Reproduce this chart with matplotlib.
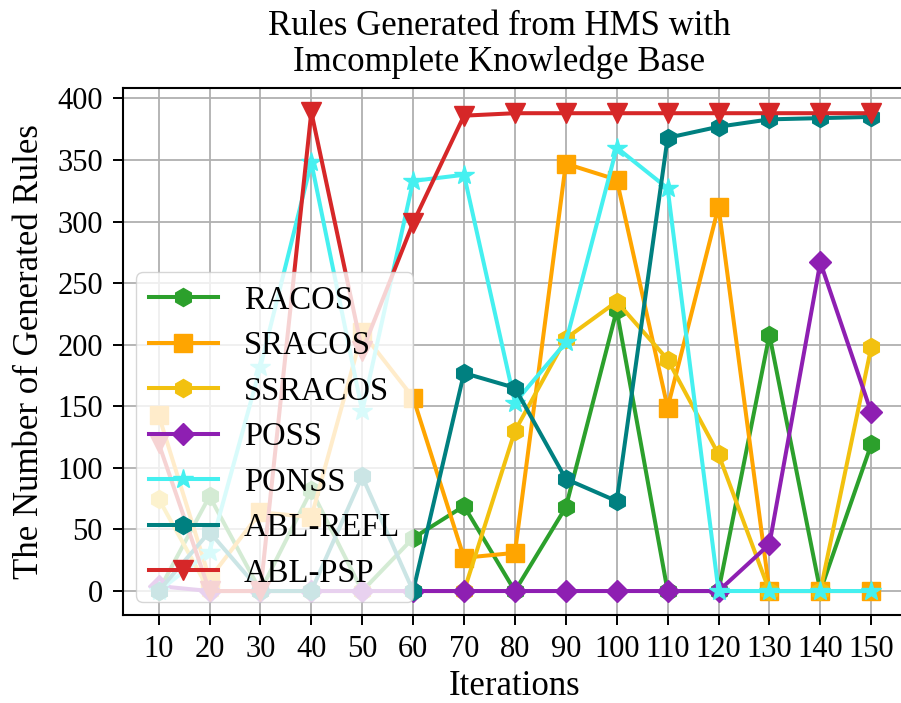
import numpy as np
import matplotlib.pyplot as plt

plt.rcParams['font.family'] = ['Liberation Serif', 'DejaVu Serif']

iteracoes = [10, 20, 30, 40, 50, 60, 70, 80, 90, 100, 110, 120, 130, 140, 150]

racos = [0, 77, 0, 82, 0, 43, 69, 0, 68, 228, 0, 0, 208, 0, 119]
sracos = [143, 10, 64, 60, 210, 157, 27, 31, 347, 334, 149, 312, 0, 0, 0]
ssracos = [75, 0, 0, 0, 0, 0, 0, 130, 205, 235, 188, 111, 0, 0, 198]
poss = [4, 0, 0, 0, 0, 0, 0, 0, 0, 0, 0, 0, 38, 267, 145]
ponss = [0, 32, 182, 348, 146, 333, 338, 153, 202, 360, 327, 0, 0, 0, 0]
abl_refl = [0, 48, 0, 0, 93, 0, 177, 165, 91, 73, 368, 377, 383, 384, 385]
abl_psp = [120, 0, 0, 389, 195, 299, 386, 388, 388, 388, 388, 388, 388, 388, 388]

series = [
    ('RACOS', racos, '#2ca02c', 'h'),
    ('SRACOS', sracos, '#ffa500', 's'),
    ('SSRACOS', ssracos, '#f2c10f', 'h'),
    ('POSS', poss, '#8e1fb2', 'D'),
    ('PONSS', ponss, '#45f0f0', '*'),
    ('ABL-REFL', abl_refl, '#008080', 'h'),
    ('ABL-PSP', abl_psp, '#d62728', 'v'),
]
tamanhos = {'h': 13, 's': 12.5, 'D': 11.5, '*': 15, 'v': 14}

fig = plt.figure(figsize=(9.01, 7.03), dpi=100)
ax = fig.add_axes([0.1365, 0.1252, 0.870, 0.7496])

for nome, valores, cor, marcador in series:
    ax.plot(iteracoes, valores, color=cor, marker=marcador,
            markersize=tamanhos[marcador], linewidth=2.9, label=nome)

ax.set_xticks(iteracoes)
ax.set_yticks(range(0, 401, 50))
ax.grid(True, color='#b0b0b0', linewidth=1.3)
ax.set_axisbelow(True)
ax.tick_params(labelsize=22, width=1.4, length=7, pad=7.5)
for s in ax.spines.values():
    s.set_linewidth(1.5)

ax.set_xlabel('Iterations', fontsize=25, labelpad=4)
ax.set_ylabel('The Number of Generated Rules', fontsize=25, labelpad=8)
ax.set_title('Rules Generated from HMS with\nImcomplete Knowledge Base',
             fontsize=25, pad=12, x=0.48, linespacing=1.1)
ax.legend(loc='lower left', fontsize=23.5, borderaxespad=0.4, handlelength=2.1,
          labelspacing=0.46)

plt.savefig('out.png', dpi=100)
